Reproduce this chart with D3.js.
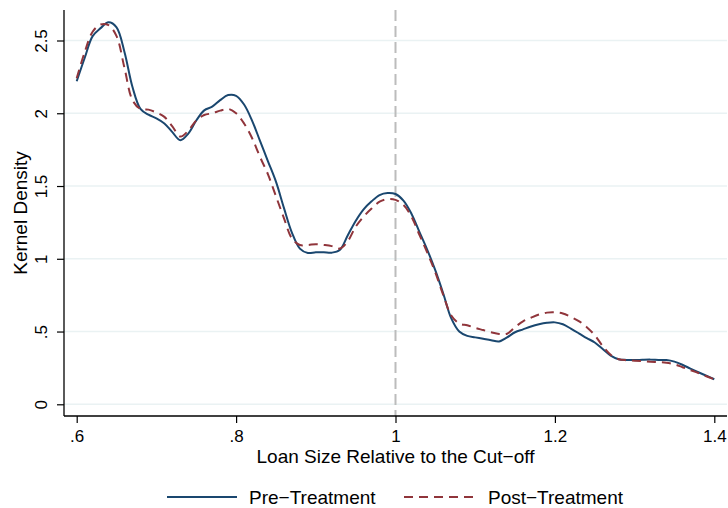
<!DOCTYPE html>
<html>
<head>
<meta charset="utf-8">
<script src="https://cdn.jsdelivr.net/npm/d3@7"></script>
<style>
  html, body { margin: 0; padding: 0; background: #ffffff; }
  svg { display: block; font-family: "Liberation Sans", Arial, sans-serif; }
</style>
</head>
<body>
<svg id="chart" width="728" height="508"></svg>
<script>
// Evaluation grid for the kernel density estimates (loan size / cut-off)
const loanRatio = [
  0.60, 0.61, 0.62, 0.63, 0.64, 0.65, 0.66, 0.67, 0.68, 0.69,
  0.70, 0.71, 0.72, 0.73, 0.74, 0.75, 0.76, 0.77, 0.78, 0.79,
  0.80, 0.81, 0.82, 0.83, 0.84, 0.85, 0.86, 0.87, 0.88, 0.89,
  0.90, 0.91, 0.92, 0.93, 0.94, 0.95, 0.96, 0.97, 0.98, 0.99,
  1.00, 1.01, 1.02, 1.03, 1.04, 1.05, 1.06, 1.07, 1.08, 1.09,
  1.10, 1.11, 1.12, 1.13, 1.14, 1.15, 1.16, 1.17, 1.18, 1.19,
  1.20, 1.21, 1.22, 1.23, 1.24, 1.25, 1.26, 1.27, 1.28, 1.29,
  1.30, 1.31, 1.32, 1.33, 1.34, 1.35, 1.36, 1.37, 1.38, 1.39,
  1.40
];

// Density before treatment
const preTreatment = [
  2.22, 2.38, 2.53, 2.585, 2.625, 2.59, 2.42, 2.18, 2.03, 1.99,
  1.965, 1.93, 1.87, 1.815, 1.86, 1.95, 2.02, 2.045, 2.09, 2.125,
  2.12, 2.06, 1.95, 1.81, 1.67, 1.53, 1.35, 1.18, 1.07, 1.04,
  1.045, 1.045, 1.042, 1.06, 1.16, 1.26, 1.34, 1.395, 1.438, 1.452,
  1.445, 1.40, 1.31, 1.185, 1.06, 0.92, 0.76, 0.59, 0.50, 0.47,
  0.46, 0.45, 0.44, 0.432, 0.46, 0.495, 0.515, 0.535, 0.55, 0.56,
  0.563, 0.55, 0.52, 0.488, 0.455, 0.425, 0.38, 0.335, 0.31, 0.305,
  0.304, 0.306, 0.307, 0.305, 0.304, 0.293, 0.272, 0.245, 0.22, 0.196,
  0.172
];

// Density after treatment
const postTreatment = [
  2.24, 2.42, 2.56, 2.61, 2.605, 2.53, 2.31, 2.09, 2.03, 2.025,
  2.005, 1.975, 1.91, 1.84, 1.88, 1.95, 1.988, 2.0, 2.018, 2.03,
  2.0, 1.93, 1.83, 1.70, 1.58, 1.43, 1.28, 1.14, 1.095, 1.095,
  1.10, 1.095, 1.087, 1.07, 1.12, 1.22, 1.29, 1.345, 1.392, 1.41,
  1.405, 1.37, 1.29, 1.165, 1.04, 0.905, 0.75, 0.61, 0.555, 0.543,
  0.525, 0.51, 0.495, 0.483, 0.485, 0.53, 0.57, 0.595, 0.617, 0.63,
  0.632, 0.624, 0.60, 0.572, 0.53, 0.475, 0.40, 0.34, 0.31, 0.303,
  0.30, 0.296, 0.292, 0.289, 0.286, 0.275, 0.255, 0.235, 0.215, 0.193,
  0.172
];

const xTicks = [0.6, 0.8, 1.0, 1.2, 1.4];
const xTickLabels = [".6", ".8", "1", "1.2", "1.4"];
const yTicks = [0, 0.5, 1, 1.5, 2, 2.5];
const yTickLabels = ["0", ".5", "1", "1.5", "2", "2.5"];
const cutoff = 1.0;

const seriesNames = ["Pre\u2212Treatment", "Post\u2212Treatment"];
const seriesColors = ["#1a476f", "#90353b"];
const seriesDash = [null, "9,6"];

const svg = d3.select("#chart");

// Plot region
const plotLeft = 64, plotRight = 727, plotTop = 10, plotBottom = 416;

const x = d3.scaleLinear().domain([0.6, 1.4]).range([76.7, 714.3]);
const y = d3.scaleLinear().domain([0, 2.5]).range([404.3, 40.5]);

// Horizontal grid lines
svg.append("g")
  .selectAll("line")
  .data(yTicks)
  .join("line")
  .attr("x1", plotLeft).attr("x2", plotRight)
  .attr("y1", d => y(d)).attr("y2", d => y(d))
  .attr("stroke", "#eaf2f3")
  .attr("stroke-width", 1.5);

// Reference line at the cut-off
svg.append("line")
  .attr("x1", x(cutoff)).attr("x2", x(cutoff))
  .attr("y1", plotTop).attr("y2", plotBottom)
  .attr("stroke", "#bcbcbc")
  .attr("stroke-width", 2)
  .attr("stroke-dasharray", "11,5");

// Y axis
const yAxis = d3.axisLeft(y)
  .tickValues(yTicks)
  .tickFormat((d, i) => yTickLabels[i])
  .tickSize(7)
  .tickSizeOuter(0);
const gy = svg.append("g").attr("transform", `translate(${plotLeft},0)`).call(yAxis);
gy.select(".domain").remove();
gy.append("line")
  .attr("x1", 0).attr("x2", 0).attr("y1", plotTop).attr("y2", plotBottom)
  .attr("stroke", "#000").attr("stroke-width", 1.3);
gy.selectAll(".tick line").attr("stroke", "#000").attr("stroke-width", 1.2);
gy.selectAll(".tick text")
  .attr("x", null).attr("dy", null)
  .attr("transform", "translate(-17,0) rotate(-90)")
  .attr("text-anchor", "middle")
  .attr("fill", "#000")
  .style("font-size", "17px");

// X axis
const xAxis = d3.axisBottom(x)
  .tickValues(xTicks)
  .tickFormat((d, i) => xTickLabels[i])
  .tickSize(7)
  .tickSizeOuter(0);
const gx = svg.append("g").attr("transform", `translate(0,${plotBottom})`).call(xAxis);
gx.select(".domain").remove();
gx.append("line")
  .attr("x1", plotLeft).attr("x2", plotRight).attr("y1", 0).attr("y2", 0)
  .attr("stroke", "#000").attr("stroke-width", 1.3);
gx.selectAll(".tick line").attr("stroke", "#000").attr("stroke-width", 1.2);
gx.selectAll(".tick text")
  .attr("y", 26).attr("dy", null)
  .attr("fill", "#000")
  .style("font-size", "17px");

// Axis titles
svg.append("text")
  .attr("x", (plotLeft + plotRight) / 2).attr("y", 463)
  .attr("text-anchor", "middle")
  .style("font-size", "19px")
  .text("Loan Size Relative to the Cut\u2212off");

svg.append("text")
  .attr("transform", `translate(27,${(plotTop + plotBottom) / 2}) rotate(-90)`)
  .attr("text-anchor", "middle")
  .style("font-size", "19px")
  .text("Kernel Density");

// Density curves
const line = d3.line()
  .x(d => x(d[0]))
  .y(d => y(d[1]))
  .curve(d3.curveCatmullRom.alpha(0.5));

[preTreatment, postTreatment].forEach((vals, i) => {
  svg.append("path")
    .datum(loanRatio.map((r, j) => [r, vals[j]]))
    .attr("fill", "none")
    .attr("stroke", seriesColors[i])
    .attr("stroke-width", 2)
    .attr("stroke-dasharray", seriesDash[i])
    .attr("d", line);
});

// Legend
const legendItems = [
  { x1: 167, x2: 237, tx: 249 },
  { x1: 404, x2: 475, tx: 488 }
];
const legend = svg.append("g");
legendItems.forEach((it, i) => {
  legend.append("line")
    .attr("x1", it.x1).attr("x2", it.x2)
    .attr("y1", 497).attr("y2", 497)
    .attr("stroke", seriesColors[i])
    .attr("stroke-width", 2)
    .attr("stroke-dasharray", seriesDash[i]);
  legend.append("text")
    .attr("x", it.tx).attr("y", 503.5)
    .style("font-size", "19px")
    .text(seriesNames[i]);
});
</script>
</body>
</html>
